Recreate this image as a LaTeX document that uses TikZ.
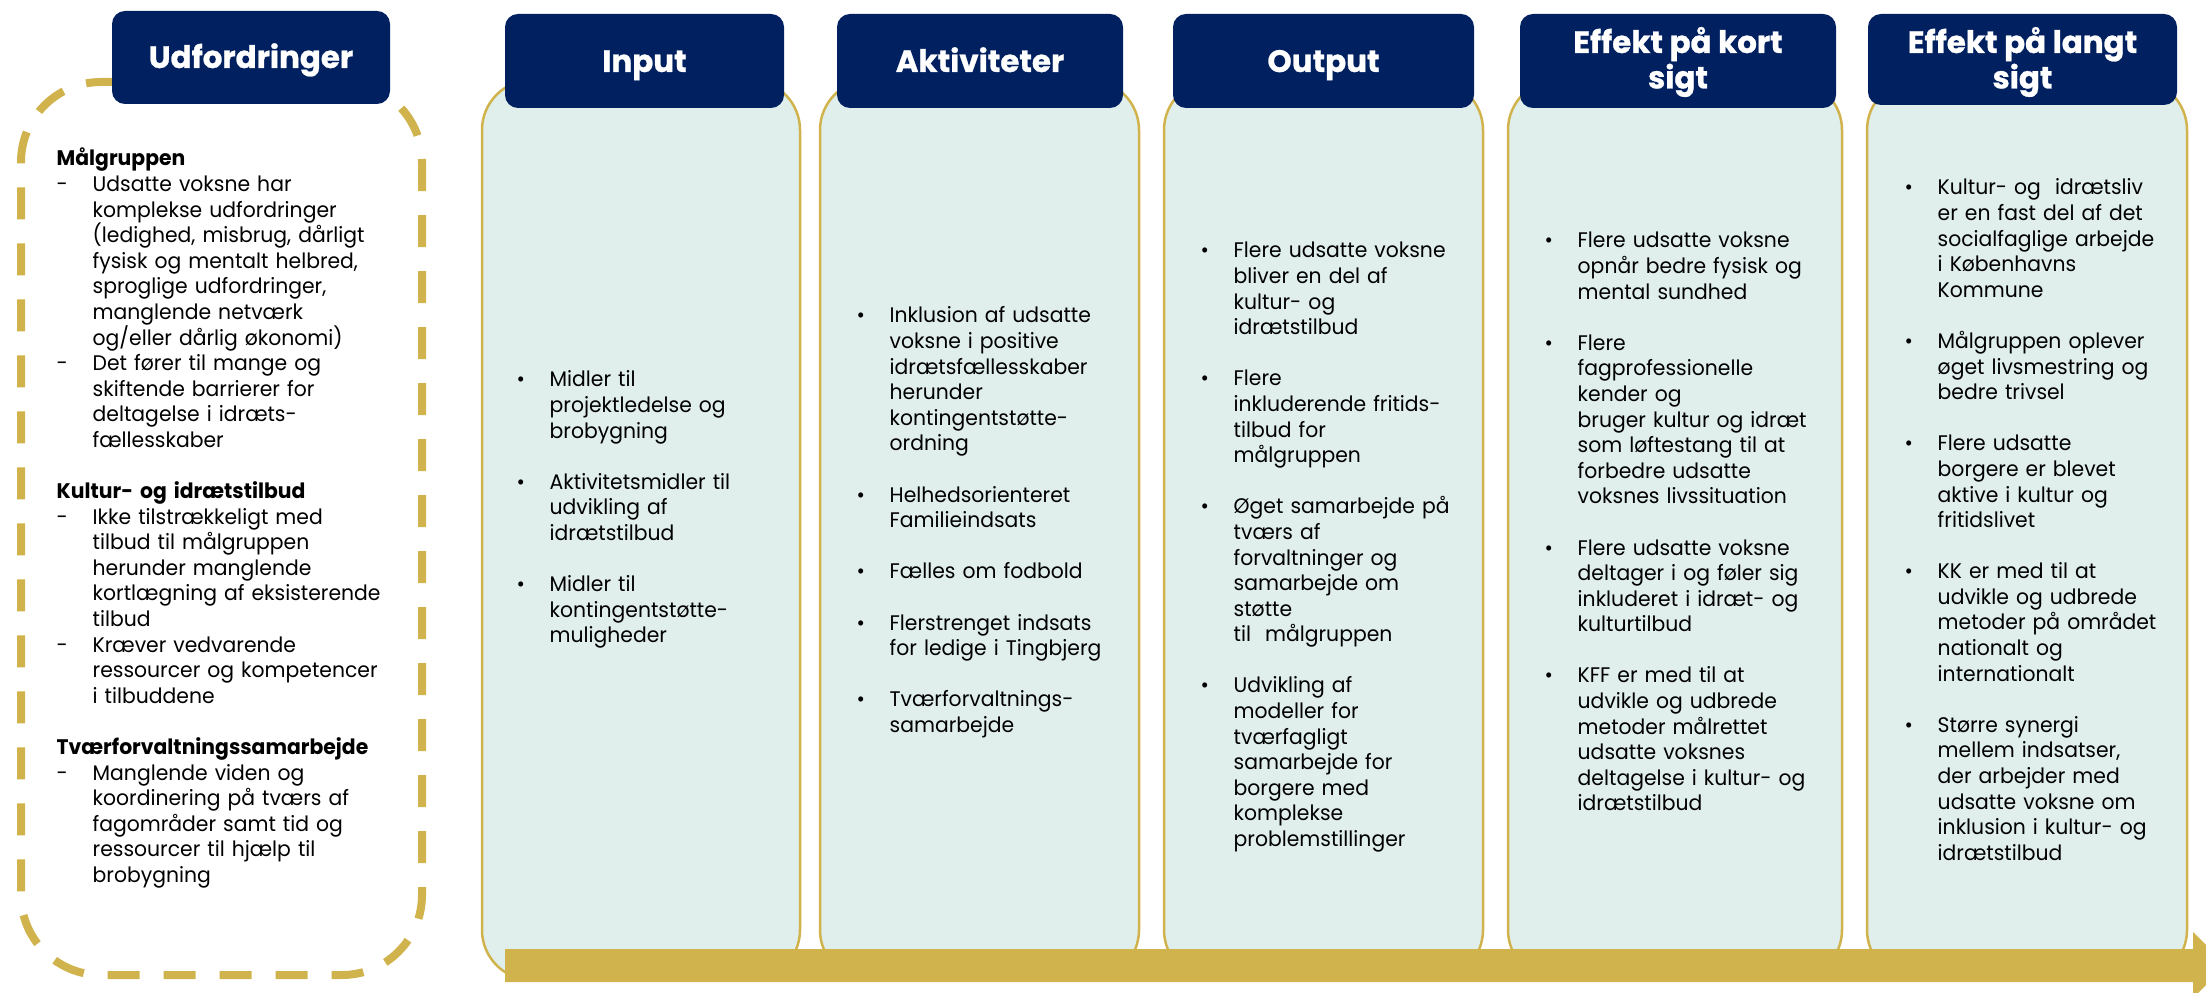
\documentclass[tikz,border=0pt]{standalone}
\usepackage{fontspec}
\setmainfont{Poppins}
\newfontfamily\geofont{Poppins}[FakeStretch=0.965]
\newfontfamily\headfont{Poppins}[FakeBold=0.8]
\usepackage{xcolor}
\usepackage{tikz}
\usetikzlibrary{fit}
\definecolor{kk-navy}{HTML}{002060}
\definecolor{kk-gold}{HTML}{D1B34D}
\definecolor{kk-teal}{HTML}{E0EFEC}
% list marks hang left of the text start
\newcommand{\dsh}{\leavevmode\llap{\makebox[3.6mm][l]{-}}}
\newcommand{\bul}{\leavevmode\llap{\makebox[3.3mm][l]{\textbullet}}}
\newcommand{\sect}[1]{\leavevmode\hspace*{-3.6mm}\textbf{#1}}
% head titles, one or two centred lines, baseline on the first one
\newcommand{\hd}[1]{\begin{tabular}[t]{@{}c@{}}#1\end{tabular}}
\tikzset{
  % dashed frame round the challenges
  udf-frame/.style={draw=kk-gold, line width=0.8mm, dash pattern=on 3.2mm off 2.4mm, rounded corners=8mm, inner sep=0pt},
  % columns
  col-body/.style={draw=kk-gold, line width=0.25mm, fill=kk-teal, rounded corners=5mm, inner sep=0pt},
  col-head/.style={fill=kk-navy, rounded corners=1.3mm, inner sep=0pt},
  head-text/.style={anchor=base, inner sep=0pt, text=white,
    font=\headfont\bfseries\fontsize{8.8}{10.1}\selectfont},
  col-text/.style={anchor=base west, inner sep=0pt, text width=36mm, align=left,
    font=\geofont\fontsize{6}{7.28}\selectfont},
  flow-arrow/.style={fill=kk-gold}
}
\begin{document}
\begin{tikzpicture}[x=0.1mm, y=-0.1mm]
    \useasboundingbox (0,0) rectangle (2206,993);
    % --- Udfordringer ---
    \node[udf-frame, fit={(21,82) (422,975)}] (fUdf) {};
    \node[col-head, fit={(112,11) (390,104)}] (hUdf) {};
    \node[head-text] (lUdf) at (251,68) {\hd{Udfordringer}};
    \node[col-text] (tUdf) at (92,166) {%
        \sect{Målgruppen}\\
        \dsh Udsatte voksne har\\
        komplekse udfordringer\\
        (ledighed, misbrug, dårligt\\
        fysisk og mentalt helbred,\\
        sproglige udfordringer,\\
        manglende netværk\\
        og/eller dårlig økonomi)\\
        \dsh Det fører til mange og\\
        skiftende barrierer for\\
        deltagelse i idræts-\\
        fællesskaber\\[7.28pt]
        \sect{Kultur- og idrætstilbud}\\
        \dsh Ikke tilstrækkeligt med\\
        tilbud til målgruppen\\
        herunder manglende\\
        kortlægning af eksisterende\\
        tilbud\\
        \dsh Kræver vedvarende\\
        ressourcer og kompetencer\\
        i tilbuddene\\[7.28pt]
        \sect{Tværforvaltningssamarbejde}\\
        \dsh Manglende viden og\\
        koordinering på tværs af\\
        fagområder samt tid og\\
        ressourcer til hjælp til\\
        brobygning};

    % --- Column bodies ---
    \node[col-body, fit={(482,80) (800,980)}] (bInput) {};
    \node[col-body, fit={(820,80) (1139,980)}] (bAkt) {};
    \node[col-body, fit={(1164,80) (1483,980)}] (bOut) {};
    \node[col-body, fit={(1508,80) (1842,980)}] (bKort) {};
    \node[col-body, fit={(1867,80) (2187,980)}] (bLangt) {};

    % --- Column heads ---
    \node[col-head, fit={(505,14) (784,108)}] (hInput) {};
    \node[col-head, fit={(837,14) (1123,108)}] (hAkt) {};
    \node[col-head, fit={(1173,14) (1474,108)}] (hOut) {};
    \node[col-head, fit={(1520,14) (1836,108)}] (hKort) {};
    \node[col-head, fit={(1868,14) (2177,105)}] (hLangt) {};
    \node[head-text] (lInput) at (644.5,72) {\hd{Input}};
    \node[head-text] (lAkt) at (980,72) {\hd{Aktiviteter}};
    \node[head-text] (lOut) at (1323.5,72) {\hd{Output}};
    \node[head-text] (lKort) at (1678,53) {\hd{Effekt på kort\\sigt}};
    \node[head-text] (lLangt) at (2022.5,53) {\hd{Effekt på langt\\sigt}};

    % --- Column texts ---
    \node[col-text] (tInput) at (549,387) {%
        \bul Midler til\\
        projektledelse og\\
        brobygning\\[7.28pt]
        \bul Aktivitetsmidler til\\
        udvikling af\\
        idrætstilbud\\[7.28pt]
        \bul Midler til\\
        kontingentstøtte-\\
        muligheder};
    \node[col-text] (tAkt) at (889,323) {%
        \bul Inklusion af udsatte\\
        voksne i positive\\
        idrætsfællesskaber\\
        herunder\\
        kontingentstøtte-\\
        ordning\\[7.28pt]
        \bul Helhedsorienteret\\
        Familieindsats\\[7.28pt]
        \bul Fælles om fodbold\\[7.28pt]
        \bul Flerstrenget indsats\\
        for ledige i Tingbjerg\\[7.28pt]
        \bul Tværforvaltnings-\\
        samarbejde};
    \node[col-text] (tOut) at (1233,258) {%
        \bul Flere udsatte voksne\\
        bliver en del af\\
        kultur- og\\
        idrætstilbud\\[7.28pt]
        \bul Flere\\
        inkluderende fritids-\\
        tilbud for\\
        målgruppen\\[7.28pt]
        \bul Øget samarbejde på\\
        tværs af\\
        forvaltninger og\\
        samarbejde om\\
        støtte\\
        til\ \ målgruppen\\[7.28pt]
        \bul Udvikling af\\
        modeller for\\
        tværfagligt\\
        samarbejde for\\
        borgere med\\
        komplekse\\
        problemstillinger};
    \node[col-text] (tKort) at (1577,248) {%
        \bul Flere udsatte voksne\\
        opnår bedre fysisk og\\
        mental sundhed\\[7.28pt]
        \bul Flere\\
        fagprofessionelle\\
        kender og\\
        bruger kultur og idræt\\
        som løftestang til at\\
        forbedre udsatte\\
        voksnes livssituation\\[7.28pt]
        \bul Flere udsatte voksne\\
        deltager i og føler sig\\
        inkluderet i idræt- og\\
        kulturtilbud\\[7.28pt]
        \bul KFF er med til at\\
        udvikle og udbrede\\
        metoder målrettet\\
        udsatte voksnes\\
        deltagelse i kultur- og\\
        idrætstilbud};
    \node[col-text] (tLangt) at (1937,195) {%
        \bul Kultur- og\ \ idrætsliv\\
        er en fast del af det\\
        socialfaglige arbejde\\
        i Københavns\\
        Kommune\\[7.28pt]
        \bul Målgruppen oplever\\
        øget livsmestring og\\
        bedre trivsel\\[7.28pt]
        \bul Flere udsatte\\
        borgere er blevet\\
        aktive i kultur og\\
        fritidslivet\\[7.28pt]
        \bul KK er med til at\\
        udvikle og udbrede\\
        metoder på området\\
        nationalt og\\
        internationalt\\[7.28pt]
        \bul Større synergi\\
        mellem indsatser,\\
        der arbejder med\\
        udsatte voksne om\\
        inklusion i kultur- og\\
        idrætstilbud};

    % --- The flow arrow ---
    \fill[flow-arrow] (505,949) -- (2193,949) -- (2193,932) -- (2226,965)
        -- (2193,998) -- (2193,982) -- (505,982) -- cycle;
\end{tikzpicture}
\end{document}
